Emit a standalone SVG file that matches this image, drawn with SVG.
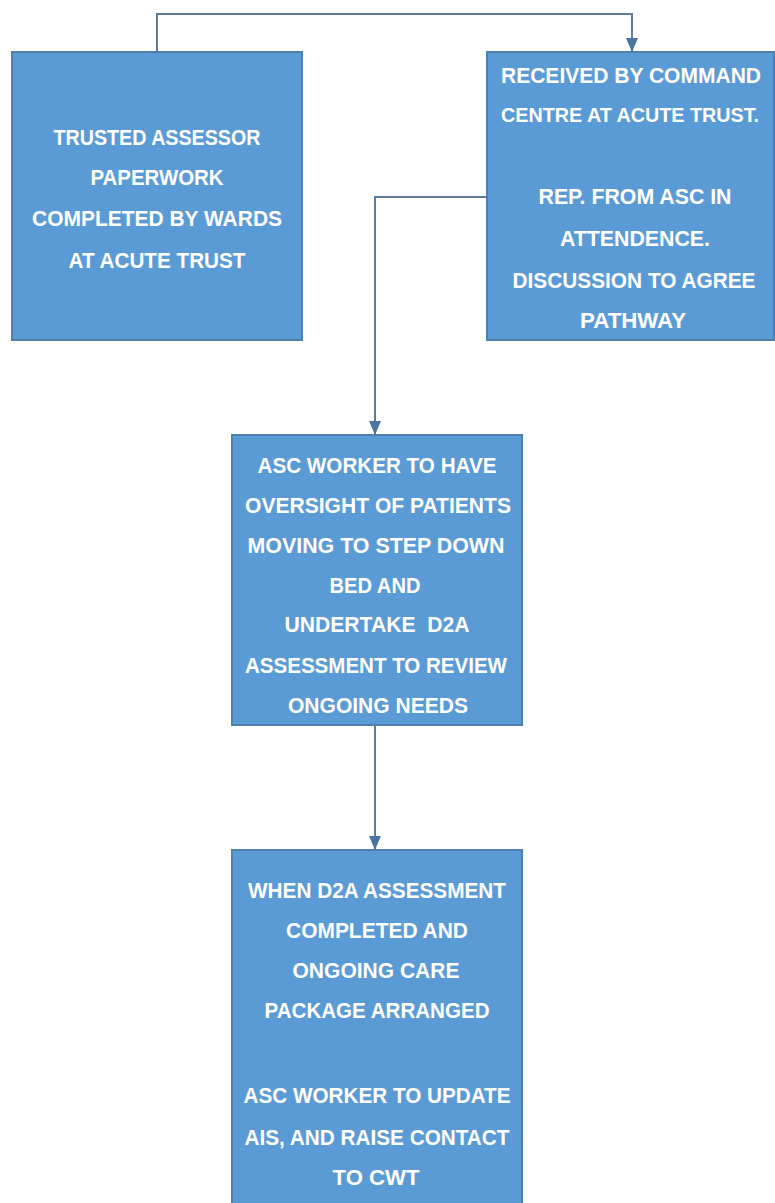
<svg xmlns="http://www.w3.org/2000/svg" width="775" height="1203" viewBox="0 0 775 1203">
<style>
.box{fill:#5b9bd5;stroke:#4f7fae;stroke-width:2}
.t{font-family:"Liberation Sans",Arial,sans-serif;font-size:22px;font-weight:bold;fill:#ffffff;text-anchor:middle}
.c{fill:none;stroke:#5d7a99;stroke-width:2}
</style>
<defs>
<marker id="arr" markerWidth="14" markerHeight="12" refX="13" refY="6" orient="auto" markerUnits="userSpaceOnUse">
<path d="M0,0 L14,6 L0,12 Z" fill="#4a74a3"/>
</marker>
</defs>
<g id="connectors">
<path class="c" d="M157,52 V14 H632 V51" marker-end="url(#arr)"/>
<path class="c" d="M487,197 H375 V434" marker-end="url(#arr)"/>
<path class="c" d="M375,725 V849" marker-end="url(#arr)"/>
</g>
<g id="n1">
<rect class="box" x="12" y="52" width="290" height="288"/>
<text class="t" x="157" y="145" textLength="207" lengthAdjust="spacingAndGlyphs">TRUSTED ASSESSOR</text>
<text class="t" x="157" y="185" textLength="133" lengthAdjust="spacingAndGlyphs">PAPERWORK</text>
<text class="t" x="157" y="226" textLength="250" lengthAdjust="spacingAndGlyphs">COMPLETED BY WARDS</text>
<text class="t" x="157" y="268" textLength="177" lengthAdjust="spacingAndGlyphs">AT ACUTE TRUST</text>
</g>
<g id="n2">
<rect class="box" x="487" y="52" width="287" height="288"/>
<text class="t" x="631" y="83" textLength="260" lengthAdjust="spacingAndGlyphs">RECEIVED BY COMMAND</text>
<text class="t" x="630" y="122" style="font-size:20px" textLength="258" lengthAdjust="spacingAndGlyphs">CENTRE AT ACUTE TRUST.</text>
<text class="t" x="635" y="204" textLength="193" lengthAdjust="spacingAndGlyphs">REP. FROM ASC IN</text>
<text class="t" x="635" y="246" textLength="150" lengthAdjust="spacingAndGlyphs">ATTENDENCE.</text>
<text class="t" x="634" y="288" textLength="243" lengthAdjust="spacingAndGlyphs">DISCUSSION TO AGREE</text>
<text class="t" x="633" y="328" textLength="106" lengthAdjust="spacingAndGlyphs">PATHWAY</text>
</g>
<g id="n3">
<rect class="box" x="232" y="435" width="290" height="290"/>
<text class="t" x="377" y="473" textLength="239" lengthAdjust="spacingAndGlyphs">ASC WORKER TO HAVE</text>
<text class="t" x="378" y="513" textLength="266" lengthAdjust="spacingAndGlyphs">OVERSIGHT OF PATIENTS</text>
<text class="t" x="376" y="553" textLength="257" lengthAdjust="spacingAndGlyphs">MOVING TO STEP DOWN</text>
<text class="t" x="375" y="593" textLength="91" lengthAdjust="spacingAndGlyphs">BED AND</text>
<text class="t" x="377" y="632" textLength="185" lengthAdjust="spacingAndGlyphs" xml:space="preserve">UNDERTAKE  D2A</text>
<text class="t" x="376" y="673" textLength="262" lengthAdjust="spacingAndGlyphs">ASSESSMENT TO REVIEW</text>
<text class="t" x="378" y="713" textLength="180" lengthAdjust="spacingAndGlyphs">ONGOING NEEDS</text>
</g>
<g id="n4">
<rect class="box" x="232" y="850" width="290" height="360"/>
<text class="t" x="377" y="898" textLength="258" lengthAdjust="spacingAndGlyphs">WHEN D2A ASSESSMENT</text>
<text class="t" x="377" y="938" textLength="182" lengthAdjust="spacingAndGlyphs">COMPLETED AND</text>
<text class="t" x="376" y="978" textLength="167" lengthAdjust="spacingAndGlyphs">ONGOING CARE</text>
<text class="t" x="377" y="1018" textLength="225" lengthAdjust="spacingAndGlyphs">PACKAGE ARRANGED</text>
<text class="t" x="377" y="1103" textLength="267" lengthAdjust="spacingAndGlyphs">ASC WORKER TO UPDATE</text>
<text class="t" x="377" y="1145" textLength="265" lengthAdjust="spacingAndGlyphs">AIS, AND RAISE CONTACT</text>
<text class="t" x="376" y="1185" textLength="87" lengthAdjust="spacingAndGlyphs">TO CWT</text>
</g>
</svg>
